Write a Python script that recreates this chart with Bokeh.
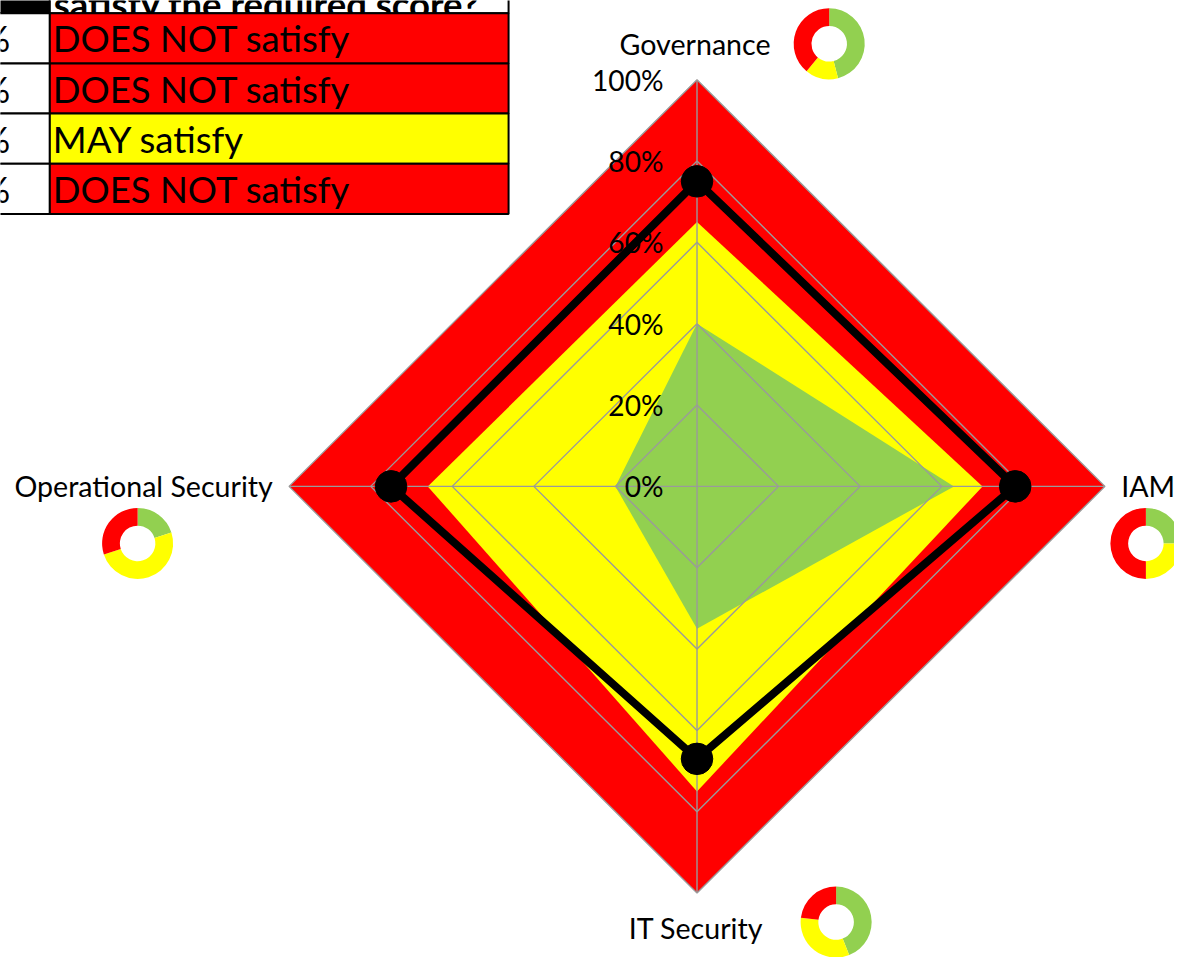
import numpy as np
from bokeh.plotting import figure
from bokeh.models import Range1d
from bokeh.core.properties import value
from bokeh.embed import file_html
from bokeh.resources import INLINE

# ---------------- data ----------------
categories = ["Governance", "IAM", "IT Security", "Operational Security"]
axis_angles_deg = [90, 0, -90, 180]
green_zone = [40, 63, 35, 20]          # green (satisfies) zone per area, %
yellow_zone = [65, 70, 75, 66]         # yellow (may satisfy) zone per area, %
red_zone = [100, 100, 100, 100]        # red (does not satisfy) zone, %
actual_score = [75, 78, 67, 75]        # measured score, %
tick_values = [0, 20, 40, 60, 80, 100]
tick_labels = ["0%", "20%", "40%", "60%", "80%", "100%"]

table_header = "satisfy the required score?"
table_pct = ["75%", "78%", "67%", "75%"]
table_status = ["DOES NOT satisfy", "DOES NOT satisfy", "MAY satisfy", "DOES NOT satisfy"]

donut_green = [46, 25, 44, 20]
donut_yellow = [15, 25, 33, 50]
donut_red = [39, 50, 23, 30]

# ---------------- styling / layout ----------------
RED, YELLOW, GREEN = "#FF0000", "#FFFF00", "#92D050"
GRID = "#9a9a9a"
FONT = value("Lato")
REF_W, REF_H = 1190, 973
W, H = 1174, 957
K = W / REF_W             # screen scale factor
S = 4.135                 # reference pixels per percent
CX, CY = 706, 494         # radar centre (reference pixel)


def dx(px):
    return (px - CX) / S


def dy(py):
    return (CY - py) / S


def fs(px):
    return f"{px * K:.1f}px"


p = figure(width=W, height=H, output_backend="svg", toolbar_location=None,
           x_range=Range1d(dx(0), dx(REF_W)), y_range=Range1d(dy(REF_H), dy(0)),
           x_axis_location=None, y_axis_location=None, min_border=0)
p.grid.visible = False
p.outline_line_color = None
p.background_fill_color = "white"
p.border_fill_color = "white"

ang = np.radians(axis_angles_deg)


def poly(vals):
    v = np.asarray(vals, dtype=float)
    return list(v * np.cos(ang)), list(v * np.sin(ang))


for vals, col in [(red_zone, RED), (yellow_zone, YELLOW), (green_zone, GREEN)]:
    xs, ys = poly(vals)
    p.patch(xs, ys, fill_color=col, line_color=None)

# grid diamonds and spokes
gx, gy = [], []
for t in tick_values[1:]:
    xs, ys = poly([t] * 4)
    gx.append(xs + [xs[0]])
    gy.append(ys + [ys[0]])
for a in ang:
    gx.append([0, 100 * np.cos(a)])
    gy.append([0, 100 * np.sin(a)])
p.multi_line(gx, gy, line_color=GRID, line_width=1.4)

# score line
xs, ys = poly(actual_score)
p.line(xs + [xs[0]], ys + [ys[0]], line_color="black", line_width=8 * K, line_join="miter")
p.scatter(xs, ys, size=32 * K, color="black")

# tick labels
p.text(x=[dx(672)] * len(tick_values), y=tick_values, text=tick_labels,
       text_font=FONT, text_font_size=fs(28.5), text_align="right",
       text_baseline="middle", text_color="black")

# category labels
lab_x = [dx(704), dx(1136), dx(705), dx(276)]
lab_y = [dy(44), dy(494), dy(943), dy(494)]
lab_align = ["center", "left", "center", "right"]
p.text(x=lab_x, y=lab_y, text=categories, text_align=lab_align,
       text_font=FONT, text_font_size=fs(29), text_baseline="middle", text_color="black")

# donuts
dcx = [dx(840), dx(1161), dx(847), dx(139)]
dcy = [dy(44), dy(552), dy(937), dy(552)]
for i in range(len(categories)):
    parts = [donut_green[i], donut_yellow[i], donut_red[i]]
    tot = float(sum(parts))
    cum = 0.0
    for val, col in zip(parts, [GREEN, YELLOW, RED]):
        a0 = np.pi / 2 - 2 * np.pi * cum / tot
        cum += val
        a1 = np.pi / 2 - 2 * np.pi * cum / tot
        p.annular_wedge(x=dcx[i], y=dcy[i], inner_radius=18 * K, outer_radius=36 * K,
                        inner_radius_units="screen", outer_radius_units="screen",
                        start_angle=a0, end_angle=a1, direction="clock",
                        fill_color=col, line_color=None)

# table (top-left, partly off-page)
row_edges = [13, 64, 115, 166, 217]
col_l, col_m, col_r = -60, 50, 515
p.quad(left=[dx(col_l)], right=[dx(col_m)], top=[dy(-40)], bottom=[dy(row_edges[0])],
       fill_color="black", line_color="black", line_width=2)
p.quad(left=[dx(col_m)], right=[dx(col_r)], top=[dy(-40)], bottom=[dy(row_edges[0])],
       fill_color="white", line_color="black", line_width=2)
p.text(x=[dx(54)], y=[dy(4)], text=[table_header], text_font=FONT, text_font_size=fs(37),
       text_font_style="bold", text_baseline="alphabetic", text_color="black")
tops = [dy(v) for v in row_edges[:-1]]
bots = [dy(v) for v in row_edges[1:]]
fills = [YELLOW if s.startswith("MAY") else RED for s in table_status]
p.quad(left=[dx(col_l)] * 4, right=[dx(col_m)] * 4, top=tops, bottom=bots,
       fill_color="white", line_color="black", line_width=2)
p.quad(left=[dx(col_m)] * 4, right=[dx(col_r)] * 4, top=tops, bottom=bots,
       fill_color=fills, line_color="black", line_width=2)
mids = [(a + b) / 2 for a, b in zip(tops, bots)]
p.text(x=[dx(10)] * 4, y=mids, text=table_pct, text_font=FONT, text_font_size=fs(37),
       text_align="right", text_baseline="middle", text_color="black")
p.text(x=[dx(53)] * 4, y=mids, text=table_status, text_font=FONT, text_font_size=fs(37),
       text_align="left", text_baseline="middle", text_color="black")

open("out.html", "w").write(file_html(p, INLINE))
